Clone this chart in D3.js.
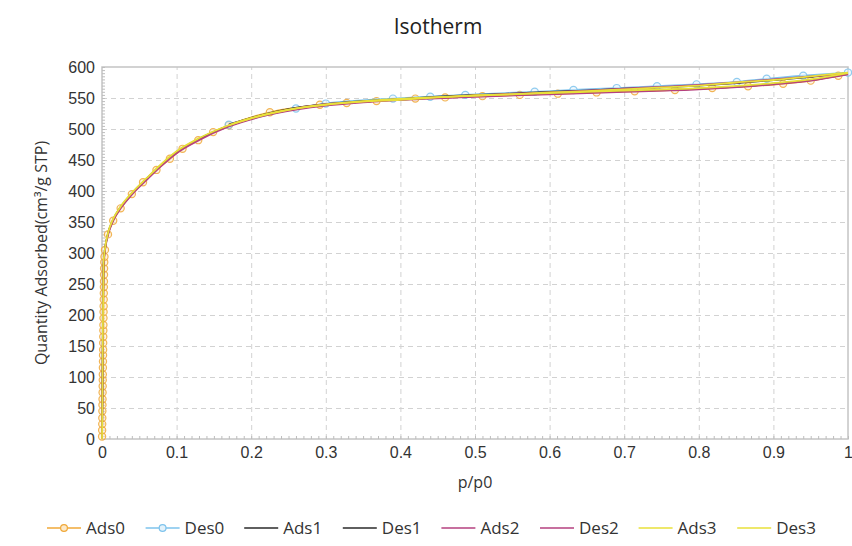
<!DOCTYPE html>
<html>
<head>
<meta charset="utf-8">
<script src="https://cdn.jsdelivr.net/npm/d3@7"></script>
<style>
  body { margin: 0; background: #fff; }
  svg { font-family: "Open Sans", "Noto Sans", sans-serif; }
</style>
</head>
<body>
<svg width="852" height="546"></svg>
<script>
// adsorption branch with markers (Ads0)
const ads0P = [0.0001, 0.0002, 0.0003, 0.0004, 0.0005, 0.0006, 0.0007, 0.0008, 0.0009, 0.0010,
  0.0011, 0.0012, 0.0013, 0.0014, 0.0015, 0.0016, 0.0017, 0.0018, 0.0019, 0.0020,
  0.0021, 0.0022, 0.0023, 0.0024, 0.0025, 0.0026, 0.0027, 0.0028, 0.0030, 0.0033,
  0.004, 0.008, 0.015, 0.025, 0.04, 0.055, 0.073, 0.091, 0.108, 0.129, 0.149, 0.17,
  0.225, 0.292, 0.328, 0.368, 0.42, 0.46, 0.51, 0.56, 0.611, 0.663, 0.714, 0.768,
  0.818, 0.866, 0.913, 0.95, 0.987]
const ads0Q = [4, 14, 24, 34, 45, 55, 64, 75, 85, 95,
  104, 115, 125, 135, 144, 155, 165, 175, 184, 195,
  205, 214, 225, 235, 245, 254, 265, 275, 285, 294,
  305, 330, 352, 372, 395, 414, 434, 452, 468, 482, 495, 506,
  527, 539, 542, 545, 549, 551, 553, 555, 557, 559, 561, 563,
  566, 569, 573, 578, 586]

// desorption branch with markers (Des0)
const des0P = [1.0, 0.94, 0.891, 0.851, 0.797, 0.744, 0.69, 0.632, 0.58, 0.487, 0.44, 0.39, 0.30, 0.26, 0.17]
const des0Q = [591, 586, 581, 576, 572, 569, 566, 563, 560, 555, 552, 549, 541, 533, 507]

// plain line series
const lineAdsP = [0, 0.0005, 0.001, 0.0015, 0.002, 0.004, 0.008, 0.015, 0.025, 0.04, 0.06, 0.08, 0.1,
  0.13, 0.17, 0.22, 0.28, 0.35, 0.42, 0.5, 0.6, 0.7, 0.8, 0.9, 0.95, 1.0]
const ads1Q = [0, 60, 140, 220, 280, 306, 331, 354, 374, 396, 420, 443, 463, 484, 505, 523, 536, 544, 549, 553, 557, 561, 565, 573, 579, 589]
const ads2Q = [0, 58, 138, 218, 278, 304, 329, 352, 372, 394, 418, 441, 461, 482, 504, 522, 535, 543, 548, 552, 556, 560, 564, 572, 578, 588]
const ads3Q = [0, 62, 142, 222, 282, 307, 332, 355, 375, 397, 421, 444, 464, 485, 506, 524, 537, 545, 550, 554, 558, 562, 566, 574, 580, 590]

const lineDesP = [1.0, 0.95, 0.9, 0.85, 0.8, 0.75, 0.7, 0.65, 0.6, 0.55, 0.5, 0.45, 0.4, 0.35, 0.3, 0.25, 0.2, 0.17]
const des1Q = [590, 584, 579, 574, 570, 567, 565, 562, 560, 557, 555, 552, 548, 545, 540, 532, 518, 507]
const des2Q = [589, 585, 580, 575, 571, 568, 565, 562, 559, 557, 554, 551, 548, 544, 540, 531, 517, 506]
const des3Q = [591, 585, 579, 575, 570, 567, 564, 561, 559, 556, 554, 551, 547, 544, 539, 531, 517, 506]

const xTicks = [0, 0.1, 0.2, 0.3, 0.4, 0.5, 0.6, 0.7, 0.8, 0.9, 1]
const yTicks = [0, 50, 100, 150, 200, 250, 300, 350, 400, 450, 500, 550, 600]

const series = [
  {name: 'Ads0', p: ads0P, q: ads0Q, color: '#f0a838', fill: '#fde9c8', marker: true},
  {name: 'Des0', p: des0P, q: des0Q, color: '#7ec3ec', fill: '#e3f2fb', marker: true},
  {name: 'Ads1', p: lineAdsP, q: ads1Q, color: '#2a2a2a'},
  {name: 'Des1', p: lineDesP, q: des1Q, color: '#2a2a2a'},
  {name: 'Ads2', p: lineAdsP, q: ads2Q, color: '#b5407f'},
  {name: 'Des2', p: lineDesP, q: des2Q, color: '#b5407f'},
  {name: 'Ads3', p: lineAdsP, q: ads3Q, color: '#e8e03a'},
  {name: 'Des3', p: lineDesP, q: des3Q, color: '#e8e03a'}
]

const margin = {top: 67, right: 4, bottom: 107, left: 102}
const width = 852
const height = 546

const x = d3.scaleLinear().domain([0, 1]).range([margin.left, width - margin.right])
const y = d3.scaleLinear().domain([0, 600]).range([height - margin.bottom, margin.top])

const svg = d3.select('svg')

// dashed grid
svg.append('g')
  .attr('transform', `translate(0, ${height - margin.bottom})`)
  .call(d3.axisBottom(x).tickValues(xTicks.slice(1, -1)).tickSize(-(y(0) - y(600))).tickFormat(''))
  .call(g => g.select('.domain').remove())
  .call(g => g.selectAll('line').attr('stroke', '#d2d2d2').attr('stroke-dasharray', '5,4'))

svg.append('g')
  .attr('transform', `translate(${margin.left}, 0)`)
  .call(d3.axisLeft(y).tickValues(yTicks.slice(1, -1)).tickSize(-(x(1) - x(0))).tickFormat(''))
  .call(g => g.select('.domain').remove())
  .call(g => g.selectAll('line').attr('stroke', '#d2d2d2').attr('stroke-dasharray', '5,4'))

// frame
svg.append('rect')
  .attr('x', x(0)).attr('y', y(600))
  .attr('width', x(1) - x(0)).attr('height', y(0) - y(600))
  .attr('fill', 'none').attr('stroke', '#c4c4c4').attr('stroke-width', 1.5)

// minor ticks inside
svg.append('g')
  .attr('transform', `translate(${margin.left}, 0)`)
  .call(d3.axisLeft(y).ticks(120).tickSize(-3).tickFormat(''))
  .call(g => g.select('.domain').remove())
  .call(g => g.selectAll('line').attr('stroke', '#bdbdbd'))

svg.append('g')
  .attr('transform', `translate(0, ${height - margin.bottom})`)
  .call(d3.axisBottom(x).ticks(100).tickSize(-3).tickFormat(''))
  .call(g => g.select('.domain').remove())
  .call(g => g.selectAll('line').attr('stroke', '#bdbdbd'))

// tick labels
svg.append('g')
  .attr('transform', `translate(0, ${height - margin.bottom})`)
  .call(d3.axisBottom(x).tickValues(xTicks).tickSize(0).tickPadding(8).tickFormat(d => d))
  .call(g => g.select('.domain').remove())
  .call(g => g.selectAll('text').attr('font-size', 16).attr('fill', '#333').attr('font-family', null))

svg.append('g')
  .attr('transform', `translate(${margin.left}, 0)`)
  .call(d3.axisLeft(y).tickValues(yTicks).tickSize(0).tickPadding(7))
  .call(g => g.select('.domain').remove())
  .call(g => g.selectAll('text').attr('font-size', 16).attr('fill', '#333').attr('font-family', null))

// series
const line = d3.line().curve(d3.curveMonotoneX)
const plot = svg.append('g')

series.forEach(s => {
  const pts = s.p.map((p, i) => [x(p), y(s.q[i])])
  const sorted = pts.slice().sort((a, b) => a[0] - b[0])
  plot.append('path')
    .attr('d', line(sorted))
    .attr('fill', 'none')
    .attr('stroke', s.color)
    .attr('stroke-width', 1.8)
  if (s.marker) {
    plot.append('g').selectAll('circle')
      .data(pts)
      .join('circle')
      .attr('cx', d => d[0]).attr('cy', d => d[1]).attr('r', 3.6)
      .attr('fill', s.fill).attr('fill-opacity', 0.5)
      .attr('stroke', s.color).attr('stroke-width', 1.2).attr('stroke-opacity', 0.85)
  }
})

// titles
svg.append('text')
  .attr('x', 438).attr('y', 34)
  .attr('text-anchor', 'middle')
  .attr('font-size', 21).attr('fill', '#222')
  .text('Isotherm')

svg.append('text')
  .attr('x', (x(0) + x(1)) / 2).attr('y', 488)
  .attr('text-anchor', 'middle')
  .attr('font-size', 16).attr('fill', '#333')
  .text('p/p0')

svg.append('text')
  .attr('transform', `translate(47, ${(y(0) + y(600)) / 2}) rotate(-90)`)
  .attr('text-anchor', 'middle')
  .attr('font-size', 16).attr('fill', '#333')
  .text('Quantity Adsorbed(cm³/g STP)')

// legend
const legend = svg.append('g').attr('transform', 'translate(47, 528)')
const item = legend.selectAll('g')
  .data(series)
  .join('g')
  .attr('transform', (d, i) => `translate(${i * 98.6}, 0)`)

item.append('line')
  .attr('x1', 0).attr('x2', 34)
  .attr('stroke', d => d.color).attr('stroke-width', 1.6)

item.filter(d => d.marker).append('circle')
  .attr('cx', 17).attr('r', 3.4)
  .attr('fill', d => d.fill).attr('stroke', d => d.color).attr('stroke-width', 1.2)

item.append('text')
  .attr('x', 39).attr('dy', '0.35em')
  .attr('font-size', 17).attr('fill', '#333')
  .text(d => d.name)
</script>
</body>
</html>
